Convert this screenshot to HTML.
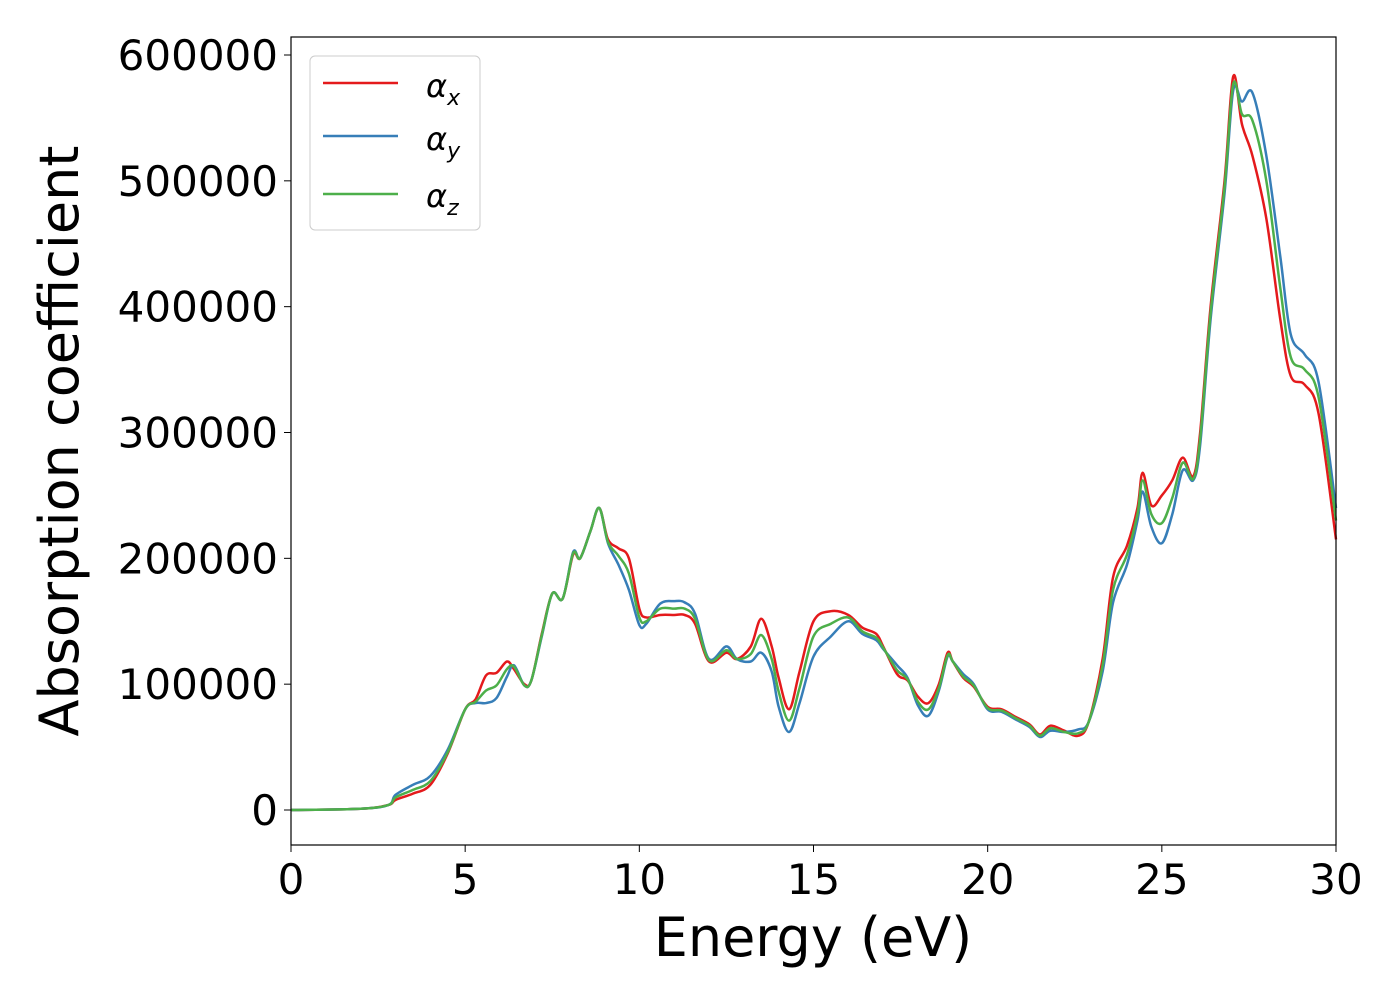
<!DOCTYPE html>
<html><head><meta charset="utf-8"><style>
html,body{margin:0;padding:0;background:#fff;width:1400px;height:1000px;overflow:hidden}
text{font-family:"DejaVu Sans","Liberation Sans",sans-serif}
</style></head><body>
<svg id="chart" width="1400" height="1000" xmlns="http://www.w3.org/2000/svg">
<rect x="0" y="0" width="1400" height="1000" fill="#fff"/>
<g id="plot"></g>
<rect x="291" y="37" width="1045" height="808" fill="none" stroke="#000" stroke-width="1.2"/>
<g id="ticks"></g>
<text x="813" y="956" font-size="54" text-anchor="middle">Energy (eV)</text>
<text transform="translate(78,441) rotate(-90)" font-size="54" text-anchor="middle">Absorption coefficient</text>
<g>
<rect x="310" y="56" width="170" height="174" rx="5" fill="#fff" fill-opacity="0.8" stroke="#ccc"/>
<line x1="323" y1="83" x2="398" y2="83" stroke="#e41a1c" stroke-width="2.5"/>
<text x="426" y="97" font-size="32" font-style="italic">α<tspan font-size="22" dy="8">x</tspan></text>
<line x1="323" y1="136" x2="398" y2="136" stroke="#377eb8" stroke-width="2.5"/>
<text x="426" y="150" font-size="32" font-style="italic">α<tspan font-size="22" dy="8">y</tspan></text>
<line x1="323" y1="194" x2="398" y2="194" stroke="#4daf4a" stroke-width="2.5"/>
<text x="426" y="207" font-size="32" font-style="italic">α<tspan font-size="22" dy="8">z</tspan></text>
</g>
</svg>
<script>
const energies=[0,2,2.8,3,3.5,4,4.5,5,5.3,5.6,5.9,6.2,6.4,6.7,6.9,7.2,7.5,7.8,8.1,8.3,8.6,8.85,9.1,9.4,9.7,10.0,10.2,10.6,11,11.3,11.6,12,12.5,12.8,13.2,13.5,13.8,14.0,14.3,14.6,15,15.5,16,16.4,16.8,17,17.4,17.7,18,18.3,18.6,18.85,19,19.3,19.6,20,20.4,20.8,21.2,21.5,21.8,22.2,22.6,22.9,23.3,23.6,24,24.3,24.45,24.7,25,25.3,25.6,25.9,26.1,26.4,26.8,27.05,27.3,27.6,28,28.4,28.7,29.1,29.5,30];
const alphaX=[0,1,4,8,13,20,45,80,88,107,109,118,112,100,103,140,172,168,203,200,222,240,215,208,200,160,153,155,155,155,148,118,125,120,130,152,130,105,80,110,150,158,155,145,140,130,108,103,90,85,100,125,118,105,98,82,80,74,68,60,67,63,59,70,120,185,210,240,268,242,250,262,280,265,300,400,500,583,545,520,470,390,345,338,315,215];
const alphaY=[0,1,4,12,20,27,48,80,85,85,89,106,115,99,103,138,172,168,205,200,222,240,212,195,175,147,148,164,166,165,156,120,130,120,118,125,110,82,62,85,122,138,150,140,135,128,115,105,83,75,95,122,118,108,100,80,78,72,66,58,63,62,64,70,110,165,195,230,253,225,212,235,270,262,290,390,490,572,563,570,520,440,378,362,340,240];
const alphaZ=[0,1,4,10,16,23,46,80,86,95,99,112,114,99,103,139,172,168,204,200,222,240,213,202,188,153,150,160,160,160,152,119,127,120,124,139,120,94,71,97,138,148,153,142,137,129,111,104,86,80,97,123,118,106,99,81,79,73,67,59,65,62,61,70,115,175,203,235,262,235,228,248,276,263,295,395,495,577,553,548,500,415,360,350,328,230];
const xTicks=[0,5,10,15,20,25,30];
const yTicks=[0,100000,200000,300000,400000,500000,600000];
const X0=291,X1=1336,Y0=810,Y600=55;
const xs=e=>X0+(e/30)*(X1-X0);
const ys=v=>Y0-(v/600000)*(Y0-Y600);
const NS='http://www.w3.org/2000/svg';
function smooth(pts){let d='M'+pts[0][0]+','+pts[0][1];for(let i=0;i<pts.length-1;i++){const p0=pts[i-1]||pts[i],p1=pts[i],p2=pts[i+1],p3=pts[i+2]||p2;const t=6;d+=' C'+(p1[0]+(p2[0]-p0[0])/t)+','+(p1[1]+(p2[1]-p0[1])/t)+' '+(p2[0]-(p3[0]-p1[0])/t)+','+(p2[1]-(p3[1]-p1[1])/t)+' '+p2[0]+','+p2[1];}return d;}
const plot=document.getElementById('plot');
[[alphaX,'#e41a1c','series-alpha-x'],[alphaY,'#377eb8','series-alpha-y'],[alphaZ,'#4daf4a','series-alpha-z']].forEach(([arr,c,n])=>{
const p=document.createElementNS(NS,'path');
p.setAttribute('d',smooth(energies.map((e,i)=>[xs(e),ys(arr[i]*1000)])));
p.setAttribute('fill','none');p.setAttribute('stroke',c);p.setAttribute('stroke-width','2.5');


plot.appendChild(p);});
const tg=document.getElementById('ticks');
xTicks.forEach(t=>{
const l=document.createElementNS(NS,'line');l.setAttribute('x1',xs(t));l.setAttribute('x2',xs(t));l.setAttribute('y1',845);l.setAttribute('y2',852);l.setAttribute('stroke','#000');


tg.appendChild(l);
const tx=document.createElementNS(NS,'text');tx.setAttribute('x',xs(t));tx.setAttribute('y',894);tx.setAttribute('font-size','42');tx.setAttribute('text-anchor','middle');tx.textContent=t;


tg.appendChild(tx);});
yTicks.forEach(t=>{
const l=document.createElementNS(NS,'line');l.setAttribute('x1',284);l.setAttribute('x2',291);l.setAttribute('y1',ys(t));l.setAttribute('y2',ys(t));l.setAttribute('stroke','#000');


tg.appendChild(l);
const tx=document.createElementNS(NS,'text');tx.setAttribute('x',278);tx.setAttribute('y',ys(t)+15);tx.setAttribute('font-size','42');tx.setAttribute('text-anchor','end');tx.textContent=t;


tg.appendChild(tx);});
</script>
</body></html>
